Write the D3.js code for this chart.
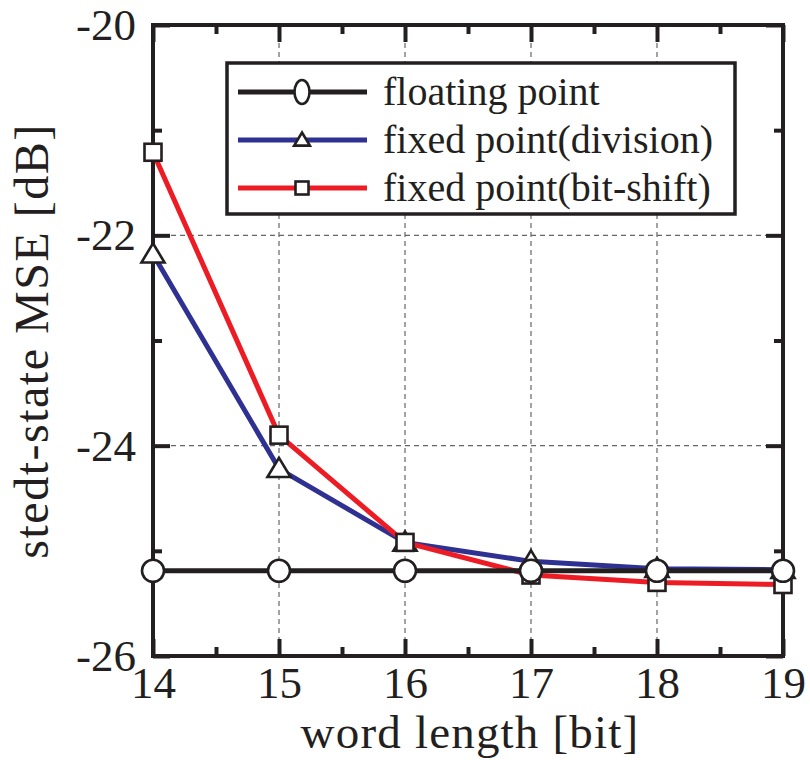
<!DOCTYPE html>
<html>
<head>
<meta charset="utf-8">
<script src="https://cdn.jsdelivr.net/npm/d3@7"></script>
<style>
  body { margin: 0; background: #fff; }
  svg { display: block; font-family: "Liberation Serif", "Times New Roman", serif; }
</style>
</head>
<body>
<svg id="chart" width="810" height="760"></svg>
<script>
// data
var wordLength = [14, 15, 16, 17, 18, 19];
var floatingPoint = [-25.19, -25.19, -25.19, -25.19, -25.19, -25.19];
var fixedDivision = [-22.18, -24.22, -24.92, -25.1, -25.17, -25.18];
var fixedBitShift = [-21.21, -23.9, -24.92, -25.23, -25.3, -25.32];

var xMajor = [14, 15, 16, 17, 18, 19];
var xMinor = [14.5, 15.5, 16.5, 17.5, 18.5];
var yMajor = [-26, -24, -22, -20];
var yMinor = [-25, -23, -21];
var xGrid = [15, 16, 17, 18];
var yGrid = [-24, -22];

var seriesNames = ['floating point', 'fixed point(division)', 'fixed point(bit-shift)'];

var margin = { top: 25, right: 27, bottom: 104, left: 153 };
var svgWidth = 810, svgHeight = 760;
var width = svgWidth - margin.left - margin.right;
var height = svgHeight - margin.top - margin.bottom;

var svg = d3.select('#chart');
var g = svg.append('g')
    .attr('transform', 'translate(' + margin.left + ',' + margin.top + ')');

var x = d3.scaleLinear().domain([14, 19]).range([0, width]);
var y = d3.scaleLinear().domain([-26, -20]).range([height, 0]);

// dashed grid
g.selectAll('.vgrid').data(xGrid).enter().append('line')
    .attr('x1', d => x(d)).attr('x2', d => x(d))
    .attr('y1', 0).attr('y2', height)
    .attr('stroke', '#666').attr('stroke-width', 1.2)
    .attr('stroke-dasharray', '5,4');
g.selectAll('.hgrid').data(yGrid).enter().append('line')
    .attr('x1', 0).attr('x2', width)
    .attr('y1', d => y(d)).attr('y2', d => y(d))
    .attr('stroke', '#666').attr('stroke-width', 1.2)
    .attr('stroke-dasharray', '5,4');

// axes, ticks pointing inward and mirrored
function styleAxis(sel) {
    sel.select('.domain').remove();
    sel.selectAll('.tick line').attr('stroke', '#231f20').attr('stroke-width', 4);
    sel.selectAll('.tick text')
        .attr('fill', '#231f20')
        .style('font-size', '45px')
        .style('font-family', '"Liberation Serif", "Times New Roman", serif');
}

var plain = d => String(d);

g.append('g').attr('transform', 'translate(0,' + height + ')')
    .call(d3.axisBottom(x).tickValues(xMajor).tickSize(-17).tickPadding(10).tickFormat(plain))
    .call(styleAxis);
g.append('g').attr('transform', 'translate(0,' + height + ')')
    .call(d3.axisBottom(x).tickValues(xMinor).tickSize(-9).tickFormat(''))
    .call(styleAxis);
g.append('g')
    .call(d3.axisTop(x).tickValues(xMajor).tickSize(-17).tickFormat(''))
    .call(styleAxis);
g.append('g')
    .call(d3.axisTop(x).tickValues(xMinor).tickSize(-9).tickFormat(''))
    .call(styleAxis);

g.append('g')
    .call(d3.axisLeft(y).tickValues(yMajor).tickSize(-17).tickPadding(17).tickFormat(plain))
    .call(styleAxis);
g.append('g')
    .call(d3.axisLeft(y).tickValues(yMinor).tickSize(-9).tickFormat(''))
    .call(styleAxis);
g.append('g').attr('transform', 'translate(' + width + ',0)')
    .call(d3.axisRight(y).tickValues(yMajor).tickSize(-17).tickFormat(''))
    .call(styleAxis);
g.append('g').attr('transform', 'translate(' + width + ',0)')
    .call(d3.axisRight(y).tickValues(yMinor).tickSize(-9).tickFormat(''))
    .call(styleAxis);

// frame
g.append('rect')
    .attr('x', 0).attr('y', 0).attr('width', width).attr('height', height)
    .attr('fill', 'none').attr('stroke', '#231f20').attr('stroke-width', 4);

// markers
function drawMarker(sel, shape, s) {
    if (shape === 'circle') {
        sel.append('circle').attr('r', s);
    } else if (shape === 'triangle') {
        sel.append('path').attr('d', 'M0,' + (-s) + 'L' + (s * 1.05) + ',' + (s * 0.75) + 'L' + (-s * 1.05) + ',' + (s * 0.75) + 'Z');
    } else {
        sel.append('rect').attr('x', -s).attr('y', -s).attr('width', 2 * s).attr('height', 2 * s);
    }
    sel.selectAll('*').attr('fill', '#fff').attr('stroke', '#231f20').attr('stroke-width', 2.6);
}

var series = [
    { name: seriesNames[1], values: fixedDivision, color: '#2e3192', shape: 'triangle', size: 11 },
    { name: seriesNames[2], values: fixedBitShift, color: '#ed1c24', shape: 'square', size: 8.5 },
    { name: seriesNames[0], values: floatingPoint, color: '#231f20', shape: 'circle', size: 11 }
];

var line = d3.line()
    .x((d, i) => x(wordLength[i]))
    .y(d => y(d));

series.forEach(function (s) {
    g.append('path')
        .datum(s.values)
        .attr('fill', 'none')
        .attr('stroke', s.color)
        .attr('stroke-width', 5)
        .attr('stroke-linejoin', 'round')
        .attr('d', line);
    s.values.forEach(function (v, i) {
        var m = g.append('g').attr('transform', 'translate(' + x(wordLength[i]) + ',' + y(v) + ')');
        drawMarker(m, s.shape, s.size);
    });
});

// legend
var legend = svg.append('g').attr('transform', 'translate(227,63)');
legend.append('rect')
    .attr('width', 508).attr('height', 151)
    .attr('fill', '#fff').attr('stroke', '#231f20').attr('stroke-width', 3.5);

var legendItems = [series[2], series[0], series[1]];
legendItems.forEach(function (s, i) {
    var row = legend.append('g').attr('transform', 'translate(0,' + (29 + i * 48) + ')');
    row.append('line')
        .attr('x1', 11).attr('x2', 140)
        .attr('stroke', s.color).attr('stroke-width', 5);
    var m = row.append('g').attr('transform', 'translate(75,0)');
    if (s.shape === 'circle') {
        m.append('ellipse').attr('rx', 7.5).attr('ry', 12)
            .attr('fill', '#fff').attr('stroke', '#231f20').attr('stroke-width', 2.6);
    } else {
        drawMarker(m, s.shape, s.shape === 'square' ? 6.5 : 7.5);
    }
    row.append('text')
        .attr('x', 156).attr('y', 13)
        .attr('fill', '#231f20')
        .style('font-size', '40px')
        .text(s.name);
});

// axis titles
svg.append('text')
    .attr('x', 470).attr('y', 748)
    .attr('text-anchor', 'middle')
    .attr('fill', '#231f20')
    .style('font-size', '47px')
    .style('letter-spacing', '1.2px')
    .text('word length [bit]');

svg.append('text')
    .attr('transform', 'translate(48,341) rotate(-90)')
    .attr('text-anchor', 'middle')
    .attr('fill', '#231f20')
    .style('font-size', '48px')
    .style('letter-spacing', '1.5px')
    .text('stedt-state MSE [dB]');
</script>
</body>
</html>
